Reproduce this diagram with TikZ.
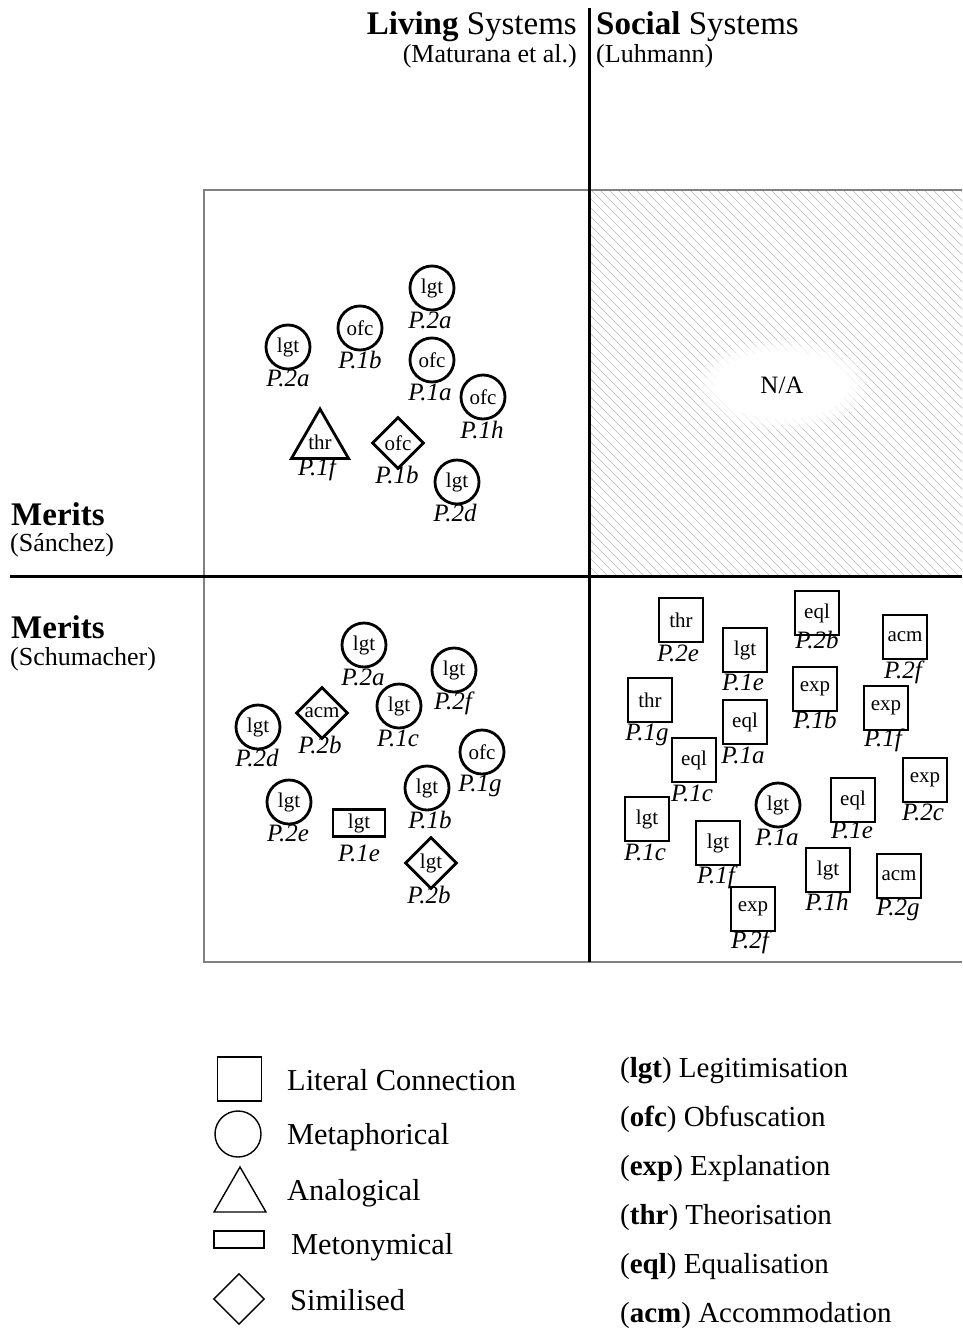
\documentclass[tikz,border=0pt]{standalone}
\usepackage{fontspec}
\setmainfont{Liberation Serif}
\newfontfamily\nodefont{Liberation Serif}
\usetikzlibrary{shapes.geometric}

% one coded symbol with its passage label underneath
\newcommand\mknode[6]{%
  \node[#1] (#2) at (#3) {#4};
  \node[plab] (#2-lab) at (#5) {#6};}

\begin{document}
\begin{tikzpicture}[x=1pt,y=-1pt,
  sym/.style={draw, line width=2.8pt, inner sep=0pt,
    font=\nodefont\fontsize{21}{21}\selectfont},
  circ/.style={sym, circle, minimum size=44pt},
  sq/.style={sym, rectangle, minimum size=44pt},
  metn/.style={sym, rectangle, minimum width=52pt, minimum height=27pt},
  dia/.style={sym, diamond, minimum size=52pt},
  tri/.style={sym, regular polygon, regular polygon sides=3, minimum size=60pt},
  plab/.style={inner sep=0pt, font=\nodefont\itshape\fontsize{25}{25}\selectfont,
    text height=0.66em, text depth=0pt},
  leg/.style={draw, line width=1.4pt, inner sep=0pt},
  legtext/.style={anchor=base west, inner sep=0pt, font=\fontsize{30.4}{30.4}\selectfont},
  codetext/.style={anchor=base west, inner sep=0pt, font=\fontsize{29}{29}\selectfont},
  head/.style={inner sep=0pt, font=\fontsize{33}{33}\selectfont},
  sub/.style={inner sep=0pt, font=\fontsize{26}{26}\selectfont},
  axis/.style={line width=3pt},
]
\useasboundingbox (0,0) rectangle (962,1328);

% hatched quadrant (not applicable)
\begin{scope}
  \clip (589,190) rectangle (962,576);
  \foreach \c in {-400,-391,...,800}
    \draw[gray!55, line width=0.6pt] ({\c+190},190) -- ({\c+576},576);
  \fill[white, opacity=0.4] (782,385) ellipse [x radius=84, y radius=45];
  \fill[white, opacity=0.6] (782,385) ellipse [x radius=76, y radius=40];
  \fill[white] (782,385) ellipse [x radius=68, y radius=34];
\end{scope}
\node[inner sep=0pt, font=\nodefont\fontsize{25}{25}\selectfont] (na) at (782,385) {N/A};

% frame and axes
\draw[gray, line width=1.2pt] (962,190) -- (204,190) -- (204,962) -- (962,962);
\coordinate (vtop) at (589,8);
\coordinate (vbot) at (589,962);
\coordinate (hleft) at (10,576);
\coordinate (hright) at (962,576);
\draw[axis] (vtop) -- (vbot);
\draw[axis] (hleft) -- (hright);

% headings
\node[head, anchor=base east] (living) at (577,34) {\textbf{Living} Systems};
\node[sub, anchor=base east] (maturana) at (577,62) {(Maturana et al.)};
\node[head, anchor=base west] (social) at (596,34) {\textbf{Social} Systems};
\node[sub, anchor=base west] (luhmann) at (596,62) {(Luhmann)};
\node[head, anchor=base west] (merits1) at (11,525) {\textbf{Merits}};
\node[sub, anchor=base west] (sanchez) at (10,551) {(Sánchez)};
\node[head, anchor=base west] (merits2) at (11,638) {\textbf{Merits}};
\node[sub, anchor=base west] (schumacher) at (10,665) {(Schumacher)};

% living systems / Sanchez
\mknode{circ}{ul1}{432,288}{lgt}{430,325}{P.2a}
\mknode{circ}{ul2}{360,328}{ofc}{360,365}{P.1b}
\mknode{circ}{ul3}{288,347}{lgt}{288,383}{P.2a}
\mknode{circ}{ul4}{432,360}{ofc}{430,397}{P.1a}
\mknode{circ}{ul5}{483,397}{ofc}{482,435}{P.1h}
\mknode{tri}{ul6}{320,442}{thr}{317,472}{P.1f}
\mknode{dia}{ul7}{398,443}{ofc}{397,480}{P.1b}
\mknode{circ}{ul8}{457,482}{lgt}{455,518}{P.2d}

% living systems / Schumacher
\mknode{circ}{ll1}{364,645}{lgt}{363,682}{P.2a}
\mknode{circ}{ll2}{454,670}{lgt}{453,706}{P.2f}
\mknode{dia}{ll3}{322,713}{acm}{320,750}{P.2b}
\mknode{circ}{ll4}{399,706}{lgt}{398,743}{P.1c}
\mknode{circ}{ll5}{258,727}{lgt}{257,763}{P.2d}
\mknode{circ}{ll6}{482,752}{ofc}{480,788}{P.1g}
\mknode{circ}{ll7}{427,788}{lgt}{430,825}{P.1b}
\mknode{circ}{ll8}{289,802}{lgt}{288,838}{P.2e}
\mknode{metn}{ll9}{359,823}{lgt}{359,858}{P.1e}
\mknode{dia}{ll10}{431,863}{lgt}{429,900}{P.2b}

% social systems / Schumacher
\mknode{sq}{lr1}{681,620}{thr}{678,658}{P.2e}
\mknode{sq}{lr2}{817,613}{eql}{817,645}{P.2b}
\mknode{sq}{lr3}{745,650}{lgt}{743,687}{P.1e}
\mknode{sq}{lr4}{905,637}{acm}{903,675}{P.2f}
\mknode{sq}{lr5}{650,700}{thr}{647,737}{P.1g}
\mknode{sq}{lr6}{815,689}{exp}{815,725}{P.1b}
\mknode{sq}{lr7}{745,722}{eql}{743,760}{P.1a}
\mknode{sq}{lr8}{886,708}{exp}{883,743}{P.1f}
\mknode{sq}{lr9}{694,760}{eql}{692,798}{P.1c}
\mknode{sq}{lr10}{647,819}{lgt}{645,857}{P.1c}
\mknode{sq}{lr11}{718,843}{lgt}{716,880}{P.1f}
\mknode{circ}{lr12}{778,805}{lgt}{777,842}{P.1a}
\mknode{sq}{lr13}{853,800}{eql}{852,835}{P.1e}
\mknode{sq}{lr14}{925,780}{exp}{923,817}{P.2c}
\mknode{sq}{lr15}{828,870}{lgt}{827,907}{P.1h}
\mknode{sq}{lr16}{899,876}{acm}{898,912}{P.2g}
\mknode{sq}{lr17}{753,909}{exp}{750,945}{P.2f}

% legend: symbol types
\node[leg, rectangle, minimum size=44pt] (lg-sq) at (239.5,1079) {};
\node[leg, circle, minimum size=46pt] (lg-ci) at (238,1134) {};
\node[leg, regular polygon, regular polygon sides=3, minimum size=60pt] (lg-tr) at (240,1197) {};
\node[leg, rectangle, minimum width=50pt, minimum height=17pt] (lg-re) at (239,1239.5) {};
\node[leg, diamond, minimum size=51pt] (lg-di) at (239,1299) {};
\node[legtext] (lt-sq) at (287,1090) {Literal Connection};
\node[legtext] (lt-ci) at (287,1144) {Metaphorical};
\node[legtext] (lt-tr) at (287,1200) {Analogical};
\node[legtext] (lt-re) at (291,1254) {Metonymical};
\node[legtext] (lt-di) at (290,1310) {Similised};

% legend: codes
\node[codetext] (c-lgt) at (620,1077) {(\textbf{lgt}) Legitimisation};
\node[codetext] (c-ofc) at (620,1126) {(\textbf{ofc}) Obfuscation};
\node[codetext] (c-exp) at (620,1175) {(\textbf{exp}) Explanation};
\node[codetext] (c-thr) at (620,1224) {(\textbf{thr}) Theorisation};
\node[codetext] (c-eql) at (620,1273) {(\textbf{eql}) Equalisation};
\node[codetext] (c-acm) at (620,1322) {(\textbf{acm}) Accommodation};
\end{tikzpicture}
\end{document}
